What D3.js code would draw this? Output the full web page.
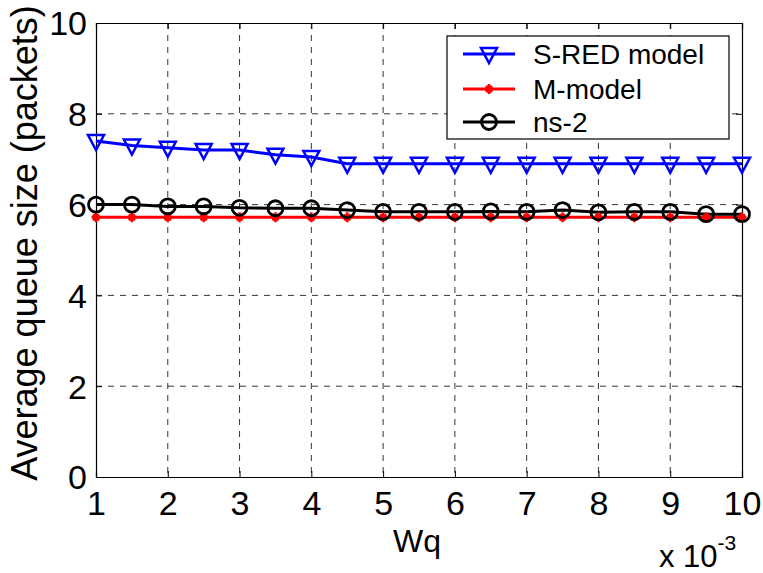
<!DOCTYPE html>
<html><head><meta charset="utf-8">
<script src="https://cdn.jsdelivr.net/npm/d3@7"></script>
<style>body{margin:0;background:#fff}svg{display:block}text{font-family:"Liberation Sans",Arial,sans-serif;fill:#000}</style>
</head><body>
<svg id="c" width="763" height="573"></svg>
<script>
const wq = [1,1.5,2,2.5,3,3.5,4,4.5,5,5.5,6,6.5,7,7.5,8,8.5,9,9.5,10];
const sred = [7.4,7.3,7.25,7.2,7.2,7.1,7.05,6.9,6.9,6.9,6.9,6.9,6.9,6.9,6.9,6.9,6.9,6.9,6.9];
const mmodel = [5.72,5.72,5.72,5.72,5.72,5.72,5.72,5.72,5.72,5.72,5.72,5.72,5.72,5.72,5.72,5.72,5.72,5.72,5.72];
const ns2 = [6.0,6.0,5.96,5.96,5.93,5.92,5.92,5.88,5.84,5.84,5.84,5.85,5.84,5.88,5.83,5.84,5.84,5.79,5.79];
const xTicks = [1,2,3,4,5,6,7,8,9,10];
const yTicks = [0,2,4,6,8,10];
const seriesNames = ["S-RED model","M-model","ns-2"];

const svg = d3.select("#c");
const L=96,R=742,T=23,B=477;
const x = d3.scaleLinear().domain([1,10]).range([L,R]);
const y = d3.scaleLinear().domain([0,10]).range([B,T]);

// grid
const g = svg.append("g");
g.selectAll(".vg").data(xTicks.slice(1,-1)).enter().append("line")
 .attr("x1",d=>x(d)).attr("x2",d=>x(d)).attr("y1",T).attr("y2",B)
 .attr("stroke","#000").attr("stroke-width",0.8).attr("stroke-dasharray","6,6");
g.selectAll(".hg").data(yTicks.slice(1,-1)).enter().append("line")
 .attr("y1",d=>y(d)).attr("y2",d=>y(d)).attr("x1",L).attr("x2",R)
 .attr("stroke","#000").attr("stroke-width",0.8).attr("stroke-dasharray","6,6");

// axes
const xb = svg.append("g").attr("transform",`translate(0,${B})`).call(d3.axisBottom(x).tickValues(xTicks).tickSize(-6));
const xt = svg.append("g").attr("transform",`translate(0,${T})`).call(d3.axisTop(x).tickValues(xTicks).tickSize(-6).tickFormat(""));
const yl = svg.append("g").attr("transform",`translate(${L},0)`).call(d3.axisLeft(y).tickValues(yTicks).tickSize(-6));
const yr = svg.append("g").attr("transform",`translate(${R},0)`).call(d3.axisRight(y).tickValues(yTicks).tickSize(-6).tickFormat(""));
[xb,xt,yl,yr].forEach(a=>{a.select(".domain").attr("stroke","#000").attr("stroke-width",1.2);a.selectAll(".tick line").attr("stroke","#000");a.selectAll("text").style("font-size","34px").attr("font-family","Liberation Sans, Arial, sans-serif");});
xb.selectAll(".tick text").attr("y",38).attr("dy",0);
yl.selectAll(".tick text").attr("x",-9).attr("dy","0.35em");

// lines
const line = d3.line().x((d,i)=>x(wq[i])).y(d=>y(d));
function drawSeries(vals,color){
  svg.append("path").datum(vals).attr("d",line).attr("fill","none").attr("stroke",color).attr("stroke-width",3);
}
drawSeries(mmodel,"#ff0000");
drawSeries(ns2,"#000");
drawSeries(sred,"#0000ff");

function tri(gs,cx,cy){ gs.append("path").attr("d",`M${cx-8},${cy-6}L${cx+8},${cy-6}L${cx},${cy+9}Z`).attr("fill","none").attr("stroke","#0000ff").attr("stroke-width",2.5);}
function star(gs,cx,cy){ gs.append("path").attr("d",`M${cx-4.5},${cy}L${cx+4.5},${cy}M${cx},${cy-5}L${cx},${cy+5}M${cx-3},${cy-3}L${cx+3},${cy+3}M${cx-3},${cy+3}L${cx+3},${cy-3}`).attr("stroke","#ff0000").attr("stroke-width",2.5);}
function circ(gs,cx,cy){ gs.append("circle").attr("cx",cx).attr("cy",cy).attr("r",7.5).attr("fill","none").attr("stroke","#000").attr("stroke-width",2.8);}

const mk = svg.append("g");
mmodel.forEach((v,i)=>star(mk,x(wq[i]),y(v)));
ns2.forEach((v,i)=>circ(mk,x(wq[i]),y(v)));
sred.forEach((v,i)=>tri(mk,x(wq[i]),y(v)));

// legend
const lg = svg.append("g");
lg.append("rect").attr("x",447).attr("y",36).attr("width",282).attr("height",103).attr("fill","#fff").attr("stroke","#000").attr("stroke-width",1.2);
const rows=[54,89,122], cols=["#0000ff","#ff0000","#000"], fns=[tri,star,circ];
rows.forEach((ry,i)=>{
  lg.append("line").attr("x1",463).attr("x2",515).attr("y1",ry).attr("y2",ry).attr("stroke",cols[i]).attr("stroke-width",3);
  fns[i](lg,489,ry);
  lg.append("text").attr("x",533).attr("y",ry).attr("dy","0.35em").style("font-size","28px").text(seriesNames[i]);
});

// labels
svg.append("text").attr("x",417).attr("y",552).attr("text-anchor","middle").style("font-size","32px").text("Wq");
svg.append("text").attr("transform","translate(37,243) rotate(-90)").attr("text-anchor","middle").style("font-size","36px").text("Average queue size (packets)");
const ex = svg.append("text").attr("x",659).attr("y",567).style("font-size","31px");
ex.append("tspan").text("x 10");
ex.append("tspan").attr("dy",-17).style("font-size","21px").text("-3");
</script>
</body></html>
